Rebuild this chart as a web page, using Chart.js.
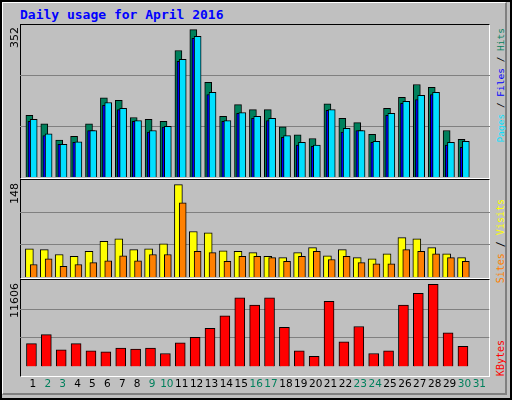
<!DOCTYPE html>
<html><head><meta charset="utf-8">
<script src="https://cdn.jsdelivr.net/npm/chart.js@4"></script>
<style>
html,body{margin:0;padding:0;}
body{width:512px;height:400px;position:relative;background:#c0c0c0;overflow:hidden;font-family:"DejaVu Sans Mono",monospace;}
#frame{position:absolute;left:0;top:0;width:508px;height:396px;border:2px solid #000;box-sizing:content-box;background:#c0c0c0;}
#inner{position:absolute;left:2px;top:2px;width:502px;height:390px;border-top:1px solid #fff;border-left:1px solid #fff;border-right:2px solid #808080;border-bottom:2px solid #808080;}
.box{position:absolute;left:20px;width:470px;}
canvas{display:block;}
#title{position:absolute;left:20px;top:7px;color:#0000ff;font-weight:bold;font-size:13px;}
.vl{position:absolute;writing-mode:vertical-rl;transform:rotate(180deg);font-size:9.5px;white-space:nowrap;}
.num{font-family:"DejaVu Sans",sans-serif;font-size:11px;}
.pan{position:absolute;left:20px;width:470px;border-top:1px solid #000;border-left:1px solid #000;border-right:1px solid #fff;border-bottom:1px solid #fff;box-sizing:border-box;}
</style></head><body>
<div id="frame"></div><div id="inner"></div>
<div id="title">Daily usage for April 2016</div>
<div class="pan" style="top:24px;height:155px"></div>
<div class="pan" style="top:179px;height:100px"></div>
<div class="pan" style="top:279px;height:98px"></div>
<div class="box" style="top:25px;height:152px"><canvas id="c1"></canvas></div>
<div class="box" style="top:180px;height:97px"><canvas id="c2"></canvas></div>
<div class="box" style="top:281px;height:114px"><canvas id="c3"></canvas></div>
<div class="vl num" style="left:8px;top:27px;color:#000">352</div>
<div class="vl num" style="left:8px;top:183px;color:#000">148</div>
<div class="vl num" style="left:8px;top:283px;color:#000">11606</div>
<div class="vl" style="left:495px;top:28px;"><span style="color:#00e0ff">Pages</span><span style="color:#000"> / </span><span style="color:#0000ff">Files</span><span style="color:#000"> / </span><span style="color:#00805c">Hits</span></div>
<div class="vl" style="left:495px;top:199px;font-size:10px"><span style="color:#ff8000">Sites</span><span style="color:#000"> / </span><span style="color:#ffff00">Visits</span></div>
<div class="vl" style="left:495px;top:340px;font-size:10px;color:#ff0000">KBytes</div>
<script>
const days = [1,2,3,4,5,6,7,8,9,10,11,12,13,14,15,16,17,18,19,20,21,22,23,24,25,26,27,28,29,30];
const dayLabels = ["1","2","3","4","5","6","7","8","9","10","11","12","13","14","15","16","17","18","19","20","21","22","23","24","25","26","27","28","29","30","31"];
const weekendDays = [2,3,9,10,16,17,23,24,30,31];
const hits  = [147,127,88,97,127,189,183,142,138,133,302,352,226,145,173,161,161,120,101,92,175,140,130,102,164,190,221,214,111,90];
const files = [133,99,78,83,111,171,161,133,107,119,276,331,197,133,152,140,135,95,76,73,159,107,111,83,147,176,185,197,76,71];
const pages = [138,103,78,84,111,178,164,135,111,121,281,336,202,135,154,145,140,99,83,76,161,116,111,85,152,181,195,202,83,85];
const visits = [45,44,36,33,41,57,61,44,45,53,148,73,71,42,41,39,33,31,39,47,34,44,31,29,37,63,61,47,37,31];
const sites  = [20,29,17,20,23,26,34,26,36,36,119,41,39,25,33,33,31,25,33,41,28,33,23,21,21,44,41,37,31,25];
const kbytes = [3219,4490,2330,3219,2203,2076,2584,2457,2584,1821,3346,4109,5380,7159,9700,8684,9700,5507,2203,1440,9192,3474,5634,1821,2203,8684,10336,11606,4744,2838];

function pts(vals, off){ return vals.map((v,i)=>({x:days[i]+off,y:v})); }
function ds(vals, off, color, w){
  return {data:pts(vals,off),backgroundColor:color,borderColor:'#000',borderWidth:1,barThickness:w,borderSkipped:'bottom'};
}
function xScale(show){
  return {type:'linear',min:0.13,max:31.67,display:show,offset:false,
    grid:{display:false},border:{display:false},
    afterBuildTicks:(ax)=>{ax.ticks=dayLabels.map((l,i)=>({value:i+1}));},
    ticks:{autoSkip:false,maxRotation:0,padding:4,
      font:{family:'DejaVu Sans',size:10.5},
      color:(c)=>weekendDays.includes(c.tick.value)?'#00805c':'#000',
      callback:(v)=>dayLabels[v-1]}};
}
function yScale(max){
  return {min:0,max:max,display:true,
    afterBuildTicks:(ax)=>{ax.ticks=[{value:max/3},{value:2*max/3}];},
    ticks:{display:false},grid:{color:'#808080',lineWidth:1,drawTicks:false},border:{display:false}};
}
function mk(id, datasets, ymax, showX){
  new Chart(document.getElementById(id),{type:'bar',data:{datasets},
    options:{responsive:true,maintainAspectRatio:false,animation:false,
      layout:{padding:0},
      datasets:{bar:{grouped:false}},
      plugins:{legend:{display:false},tooltip:{enabled:false}},
      scales:{x:xScale(showX),y:yScale(ymax)}}});
}
mk('c1',[ds(pages,0.05,'#00e0ff',7),ds(files,-0.1,'#0000ff',7),ds(hits,-0.24,'#00805c',7)],363,false);
mk('c2',[ds(sites,0.05,'#ff8000',7),ds(visits,-0.24,'#ffff00',8)],155.5,false);
mk('c3',[ds(kbytes,-0.1,'#ff0000',10)],12072,true);
</script>
</body></html>
